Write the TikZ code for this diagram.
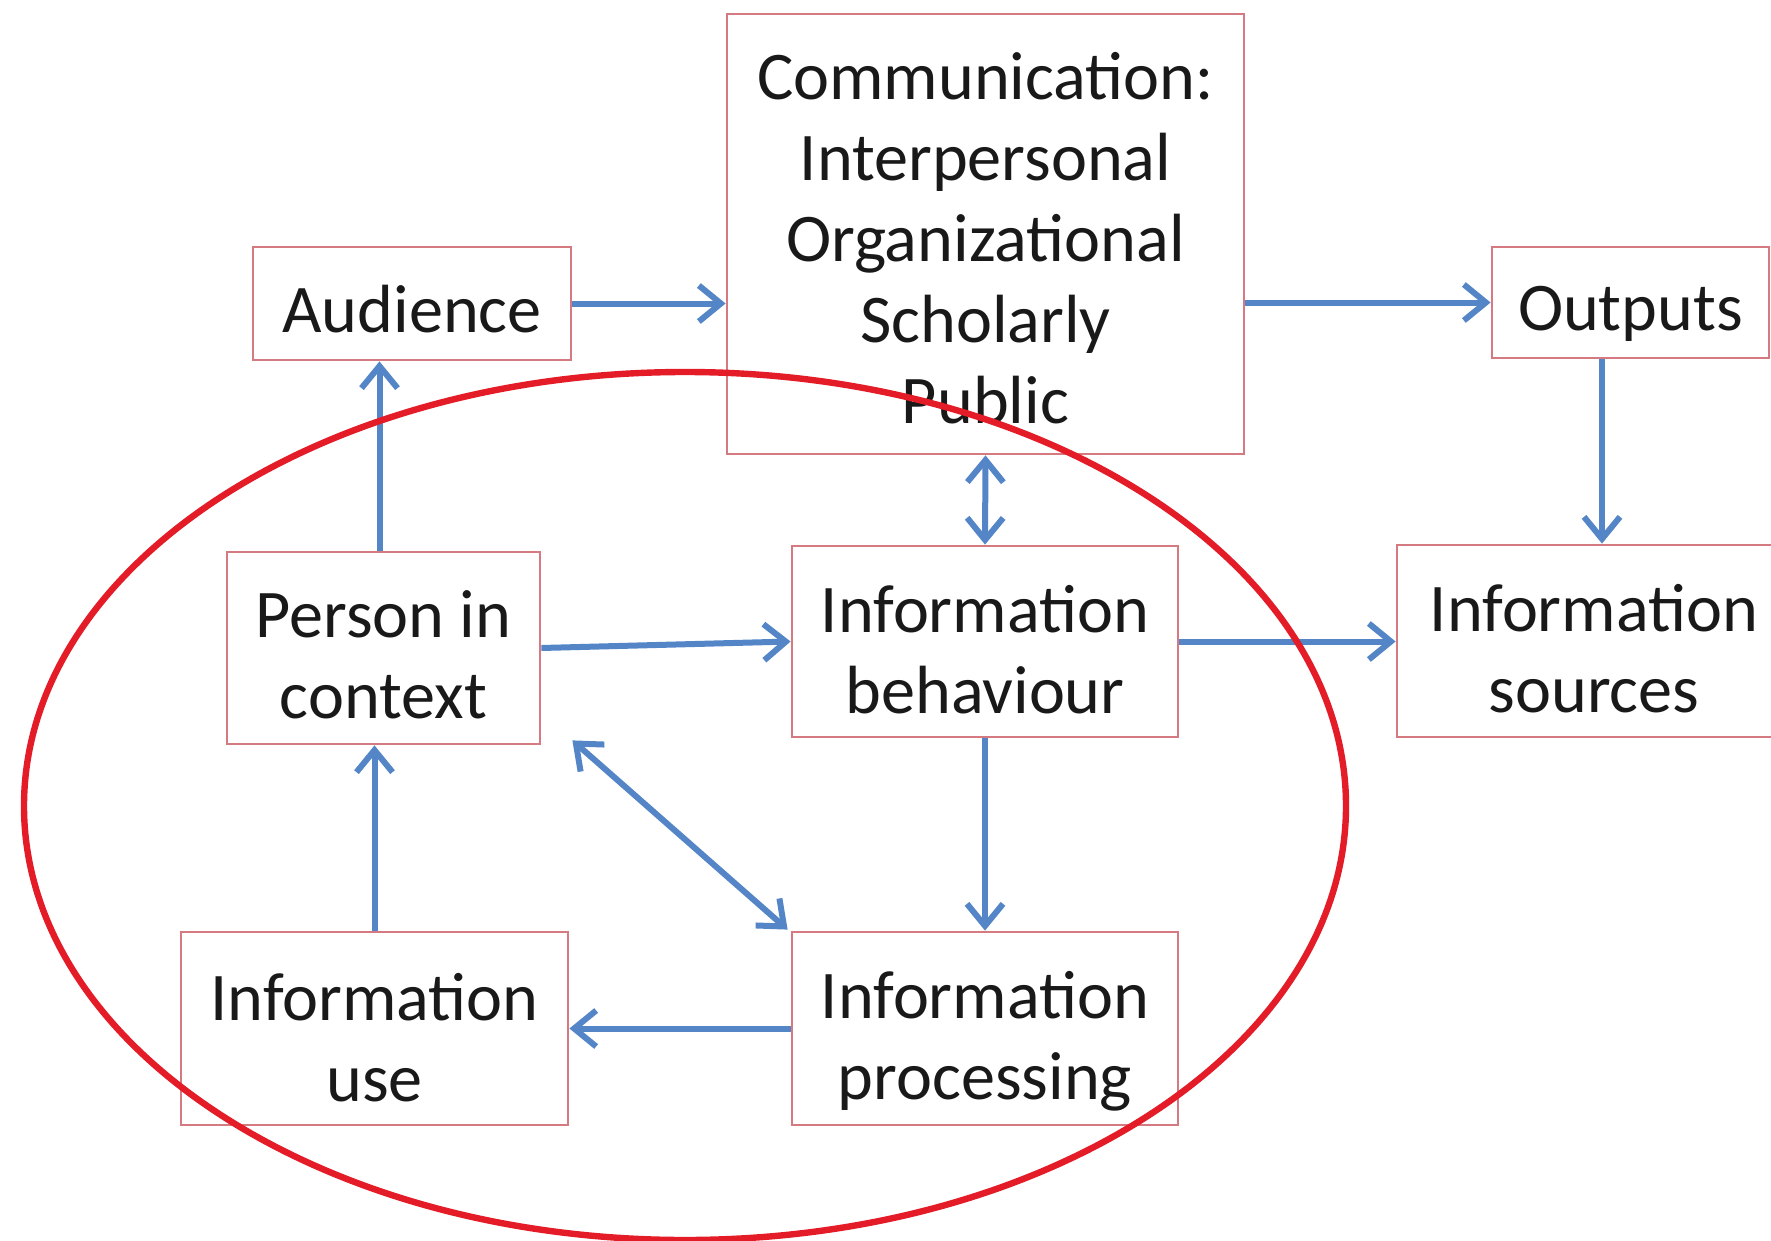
\documentclass[tikz,border=0pt]{standalone}
\usepackage{fontspec}
\setmainfont{Carlito}
\usetikzlibrary{arrows.meta}
\definecolor{boxred}{RGB}{214,122,130}
\definecolor{arrblue}{RGB}{84,134,199}
\definecolor{ellred}{RGB}{228,28,40}
\definecolor{txtcol}{RGB}{25,25,25}
\begin{document}
\begin{tikzpicture}[x=0.5pt,y=-0.5pt,
  box/.style={draw=boxred, line width=1.4pt, fill=white, inner sep=0pt},
  lbl/.style={inner sep=0pt, align=center, font=\fontsize{34.1pt}{40.5pt}\selectfont, text=txtcol},
  arr/.style={draw=arrblue, line width=3pt, -{Straight Barb[length=11pt,width=18pt]}},
  darr/.style={draw=arrblue, line width=3pt, {Straight Barb[length=11pt,width=18pt]}-{Straight Barb[length=11pt,width=18pt]}},
  ring/.style={draw=ellred, line width=3.2pt}]
\useasboundingbox (0,0) rectangle (1771,1241);
\fill[white] (0,0) rectangle (1771,1241);
\clip (0,0) rectangle (1771,1241);

\node[box, minimum width=159pt, minimum height=56.5pt] (aud) at (412,303.5) {};
\node[box, minimum width=258.5pt, minimum height=220pt] (comm) at (985.5,234) {};
\node[box, minimum width=138.5pt, minimum height=55.5pt] (out) at (1630.5,302.5) {};
\node[box, minimum width=156.5pt, minimum height=96pt] (per) at (383.5,648) {};
\node[box, minimum width=193pt, minimum height=95.5pt] (beh) at (985,641.5) {};
\node[box, minimum width=197pt, minimum height=96pt] (src) at (1594,641) {};
\node[box, minimum width=193.5pt, minimum height=96.5pt] (use) at (374.5,1028.5) {};
\node[box, minimum width=193pt, minimum height=96.5pt] (proc) at (985,1028.5) {};

\node[lbl] (audT) at ([yshift=-3pt]aud.center) {Audience};
\node[lbl] (commT) at ([yshift=-2pt]comm.center) {Communication:\\Interpersonal\\Organizational\\Scholarly\\Public};
\node[lbl] (outT) at ([yshift=-5.5pt]out.center) {Outputs};
\node[lbl] (perT) at ([yshift=-3.5pt]per.center) {Person in\\context};
\node[lbl] (behT) at ([yshift=-4pt]beh.center) {Information\\behaviour};
\node[lbl] (srcT) at ([yshift=-4pt]src.center) {Information\\sources};
\node[lbl] (useT) at ([yshift=-4.5pt]use.center) {Information\\use};
\node[lbl] (procT) at ([yshift=-6.5pt]proc.center) {Information\\processing};

\draw[arr] (aud.east) -- (comm.west |- aud.east);
\draw[arr] (comm.east |- out.west) -- (out.west);
\draw[arr] ([xshift=-14.25pt]out.south) -- ([xshift=-14.25pt]out.south |- src.north);
\draw[arr] ([xshift=-2pt]per.north) -- ([xshift=-2pt]per.north |- aud.south);
\draw[darr] (comm.south) -- (beh.north);
\draw[arr] (per.east) -- (beh.west);
\draw[arr] (beh.east) -- (beh.east -| src.west);
\draw[arr] (beh.south) -- (proc.north);
\draw[arr] (proc.west) -- (use.east);
\draw[arr] (use.north) -- (use.north |- per.south);
\draw[darr] ([xshift=15.5pt,yshift=2.5pt]per.south east) -- ([xshift=-1.5pt,yshift=0.5pt]proc.north west);

\draw[ring] (685,806) ellipse [x radius=330.5pt, y radius=217pt];
\end{tikzpicture}
\end{document}
